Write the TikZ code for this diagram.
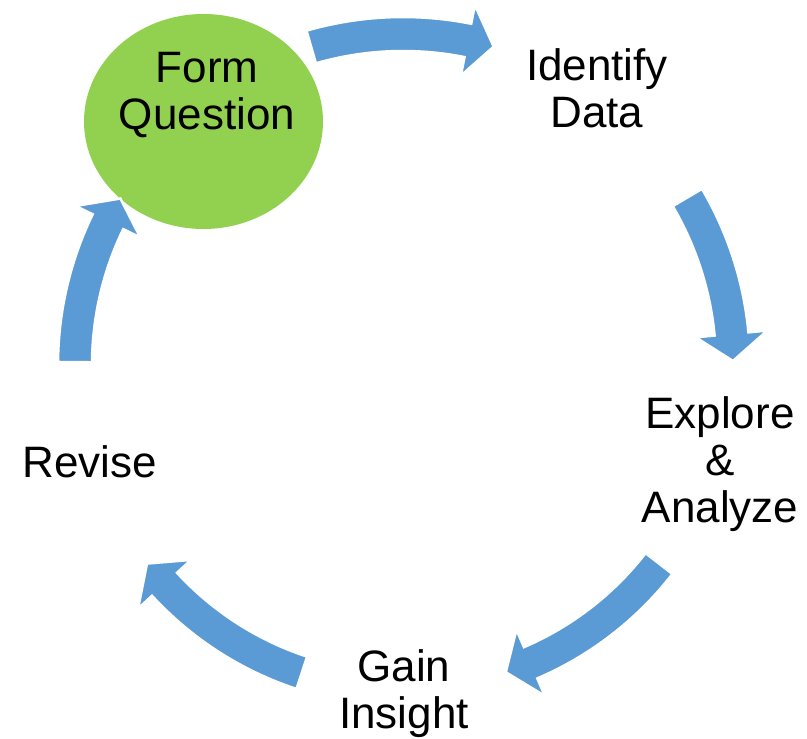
\documentclass[tikz,border=0pt]{standalone}
\usepackage{fontspec}
\setmainfont{Liberation Sans}
\definecolor{cycblue}{HTML}{5B9BD5}
\definecolor{cycgreen}{HTML}{92D050}
\tikzset{
  lbl/.style={align=center, anchor=base, inner sep=0pt, font={\fontsize{44}{47}\selectfont}, text=black},
  blockarrow/.style={fill=cycblue, draw=white, line width=2.5pt, line join=miter},
}
% #1 radius, #2 start angle, #3 head-base angle, #4 tip angle
\newcommand\cycarrow[4]{%
  \path[blockarrow] (#2:{#1+17}) arc[start angle=#2, end angle=#3, radius={#1+17}]
    -- (#3:{#1+36}) -- (#4:#1) -- (#3:{#1-36}) -- (#3:{#1-17})
    arc[start angle=#3, end angle=#2, radius={#1-17}] -- cycle;}
\begin{document}
\begin{tikzpicture}[x=1pt,y=1pt]
\useasboundingbox (0,0) rectangle (807,739);
\fill[white] (0,0) rectangle (807,739);
% Form Question circle
\fill[cycgreen] (203.5,617.5) ellipse[x radius=119.5, y radius=107.5];
\coordinate (C) at (403,374);
\begin{scope}[shift={(C)}]
  \cycarrow{331}{106.1}{78.7}{74.1}
  \cycarrow{330}{30.5}{5.4}{0.7}
  \cycarrow{324}{-37.8}{-66.8}{-71.5}
  \cycarrow{324}{-108.2}{-137.4}{-142.2}
  \cycarrow{328}{179.5}{154.1}{149.5}
\end{scope}
\node[lbl] (fq) at (207,609) {Form\\Question};
\node[lbl] (id) at (597,611) {Identify\\Data};
\node[lbl] (ea) at (720,216) {Explore\\\&\\Analyze};
\node[lbl] (gi) at (404,10) {Gain\\Insight};
\node[lbl] (rv) at (89.5,261) {Revise};
\end{tikzpicture}
\end{document}
